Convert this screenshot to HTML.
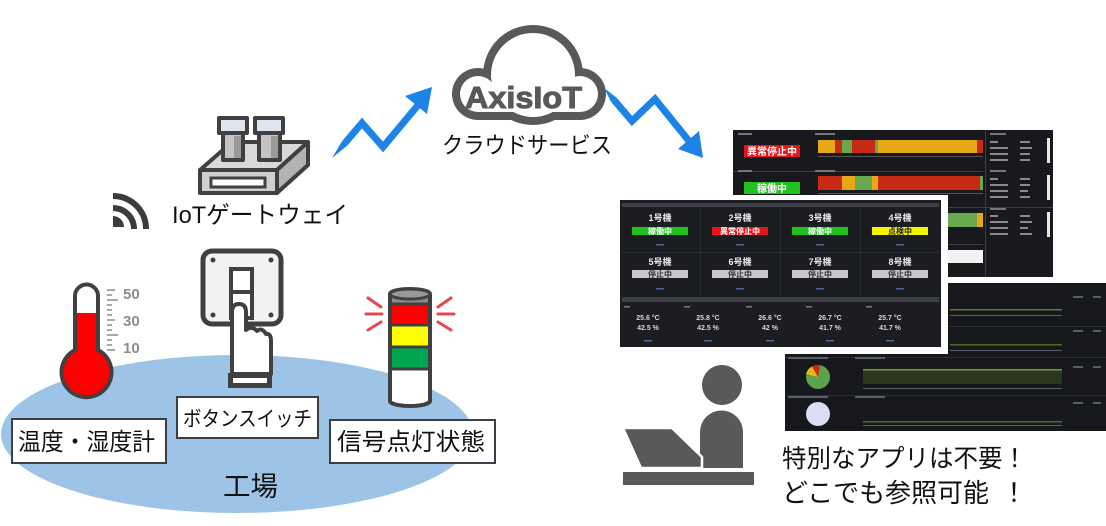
<!DOCTYPE html>
<html><head><meta charset="utf-8"><style>
html,body{margin:0;padding:0;background:#fff;}
svg{display:block;}
text{font-family:"Liberation Sans","Noto Sans CJK JP",sans-serif;}
</style></head><body>
<svg width="1106" height="526" viewBox="0 0 1106 526" xmlns="http://www.w3.org/2000/svg">
<rect width="1106" height="526" fill="#fff"/>

<!-- Factory ellipse -->
<ellipse cx="237" cy="434" rx="236" ry="79" fill="#9dc3e6"/>

<!-- Wifi icon -->
<g fill="none" stroke="#3c3c3c" stroke-width="6">
  <path d="M113 196 A33 33 0 0 1 146 229"/>
  <path d="M113 208 A21 21 0 0 1 134 229"/>
</g>
<path d="M113 216 A11 11 0 0 1 124 227 L113 227 Z" fill="#3c3c3c"/>

<!-- Gateway -->
<g stroke="#404040" stroke-width="4" stroke-linejoin="round">
  <polygon points="200,170 277,170 308,142 232,142" fill="#d9d9d9"/>
  <polygon points="277,170 308,142 308,165 277,193" fill="#b3b3b3"/>
  <rect x="200" y="170" width="77" height="23" fill="#cfcfcf"/>
  <rect x="223" y="130" width="20" height="30" fill="#c4c4c4"/>
  <rect x="259" y="130" width="21" height="30" fill="#c4c4c4"/>
  <rect x="219" y="118" width="28" height="15" fill="#dfe5ee"/>
  <rect x="255" y="118" width="28" height="15" fill="#dfe5ee"/>
</g>
<rect x="234" y="136" width="7" height="22" fill="#9a9a9a"/>
<rect x="271" y="136" width="7" height="22" fill="#9a9a9a"/>
<rect x="211" y="178" width="54" height="9" fill="#fff" stroke="#404040" stroke-width="3"/>
<text x="172" y="223" font-size="24" textLength="176" lengthAdjust="spacingAndGlyphs" fill="#111">IoTゲートウェイ</text>

<!-- Arrow 1 -->
<polygon points="332,158 347.7,145.3 342.3,140.7" fill="#1e83e6"/>
<polyline points="345,143 362,123 383,147 419,104" fill="none" stroke="#1e83e6" stroke-width="7" stroke-linejoin="miter"/>
<polygon points="432,87 427,114 405,96" fill="#1e83e6"/>

<!-- Cloud -->
<g fill="#595959">
  <circle cx="478" cy="94" r="26"/>
  <circle cx="533" cy="75" r="50"/>
  <circle cx="580" cy="94" r="26"/>
  <rect x="478" y="76" width="102" height="44"/>
</g>
<g fill="#fff">
  <circle cx="478" cy="94" r="18"/>
  <circle cx="533" cy="75" r="42"/>
  <circle cx="580" cy="94" r="18"/>
  <rect x="478" y="84" width="102" height="28"/>
</g>
<text x="465" y="108" font-size="31" font-weight="bold" fill="#595959" stroke="#595959" stroke-width="1" textLength="117" lengthAdjust="spacingAndGlyphs">AxisIoT</text>
<text x="442" y="153" font-size="23" textLength="170" lengthAdjust="spacingAndGlyphs" fill="#111">クラウドサービス</text>

<!-- Arrow 2 -->
<polygon points="604,88 616.7,97.7 611.3,102.3" fill="#1e83e6"/>
<polyline points="614,100 632,121 655,99 689,141" fill="none" stroke="#1e83e6" stroke-width="7" stroke-linejoin="miter"/>
<polygon points="703,158 678,149 699,131" fill="#1e83e6"/>

<!-- Back screenshot (top) -->
<rect x="733" y="130" width="320" height="147" fill="#17191d"/>
<g fill="#3a3d44">
  <rect x="733" y="171" width="250" height="1"/>
  <rect x="733" y="207" width="320" height="1"/>
  <rect x="733" y="244" width="250" height="1"/>
  <rect x="985" y="130" width="1" height="147"/>
</g>
<g fill="#777">
  <rect x="738" y="133" width="14" height="2"/>
  <rect x="815" y="133" width="20" height="2"/>
  <rect x="738" y="170" width="14" height="2"/>
  <rect x="815" y="170" width="20" height="2"/>
  <rect x="990" y="133" width="16" height="2"/>
  <rect x="990" y="170" width="16" height="2"/>
  <rect x="990" y="208" width="16" height="2"/>
</g>
<rect x="744" y="145" width="56" height="12" fill="#e8141c"/>
<text x="772" y="155" font-size="10" font-weight="bold" fill="#fff" text-anchor="middle">異常停止中</text>
<rect x="744" y="182" width="56" height="12" fill="#1fc21f"/>
<text x="772" y="192" font-size="10" font-weight="bold" fill="#fff" text-anchor="middle">稼働中</text>
<!-- bar row1 -->
<rect x="818" y="140" width="165" height="13" fill="#e6a817"/>
<rect x="835" y="140" width="7" height="13" fill="#c92a16"/>
<rect x="842" y="140" width="10" height="13" fill="#68a84e"/>
<rect x="852" y="140" width="23" height="13" fill="#c92a16"/>
<rect x="875" y="140" width="3" height="13" fill="#68a84e"/>
<rect x="977" y="140" width="6" height="13" fill="#c92a16"/>
<!-- bar row2 -->
<rect x="818" y="176" width="165" height="14" fill="#c92a16"/>
<rect x="842" y="176" width="13" height="14" fill="#e6a817"/>
<rect x="855" y="176" width="17" height="14" fill="#68a84e"/>
<rect x="872" y="176" width="6" height="14" fill="#e6a817"/>
<rect x="980" y="176" width="3" height="14" fill="#68a84e"/>
<!-- bar row3/4 -->
<rect x="930" y="213" width="47" height="14" fill="#68a84e"/>
<rect x="977" y="213" width="6" height="14" fill="#e6a817"/>
<rect x="930" y="250" width="53" height="13" fill="#f2f2f2"/>
<g fill="#555">
  <rect x="818" y="156" width="165" height="1"/>
  <rect x="818" y="193" width="165" height="1"/>
</g>
<!-- right mini panels -->
<g fill="#8a8a8a">
  <rect x="990" y="141" width="8" height="2"/><rect x="1020" y="141" width="10" height="2"/>
  <rect x="990" y="147" width="18" height="2"/><rect x="1020" y="147" width="12" height="2"/>
  <rect x="990" y="153" width="18" height="2"/><rect x="1020" y="153" width="10" height="2"/>
  <rect x="990" y="159" width="18" height="2"/><rect x="1020" y="159" width="10" height="2"/>
  <rect x="990" y="178" width="8" height="2"/><rect x="1020" y="178" width="10" height="2"/>
  <rect x="990" y="184" width="18" height="2"/><rect x="1020" y="184" width="10" height="2"/>
  <rect x="990" y="190" width="18" height="2"/><rect x="1020" y="190" width="8" height="2"/>
  <rect x="990" y="196" width="18" height="2"/><rect x="1020" y="196" width="10" height="2"/>
  <rect x="990" y="215" width="8" height="2"/><rect x="1020" y="215" width="10" height="2"/>
  <rect x="990" y="221" width="18" height="2"/><rect x="1020" y="221" width="12" height="2"/>
  <rect x="990" y="227" width="18" height="2"/><rect x="1020" y="227" width="8" height="2"/>
  <rect x="990" y="233" width="18" height="2"/><rect x="1020" y="233" width="12" height="2"/>
</g>
<g fill="#e8e8e8">
  <rect x="1047" y="138" width="3" height="25"/>
  <rect x="1047" y="175" width="3" height="25"/>
  <rect x="1047" y="212" width="3" height="25"/>
</g>

<!-- Bottom screenshot -->
<rect x="785" y="283" width="321" height="148" fill="#16181c"/>
<g fill="#2a2e35">
  <rect x="785" y="326" width="321" height="1"/>
  <rect x="785" y="357" width="321" height="1"/>
  <rect x="785" y="395" width="321" height="1"/>
</g>
<rect x="950" y="309" width="112" height="1.5" fill="#5d7a2a"/>
<rect x="950" y="344" width="112" height="1.5" fill="#4f6a24"/>
<rect x="863" y="370" width="199" height="14" fill="#2b3720"/>
<rect x="863" y="369" width="199" height="1.5" fill="#7c9a3c"/>
<rect x="863" y="421" width="199" height="1.5" fill="#4c6a2a"/>
<g fill="#5a5e66">
  <rect x="950" y="315" width="112" height="1"/>
  <rect x="950" y="350" width="112" height="1"/>
  <rect x="863" y="388" width="199" height="1"/>
  <rect x="863" y="425" width="199" height="1"/>
  <rect x="1073" y="296" width="10" height="2"/><rect x="1093" y="296" width="8" height="2"/>
  <rect x="1073" y="330" width="10" height="2"/><rect x="1093" y="330" width="8" height="2"/>
  <rect x="1073" y="366" width="10" height="2"/><rect x="1093" y="366" width="8" height="2"/>
  <rect x="1073" y="402" width="10" height="2"/><rect x="1093" y="402" width="8" height="2"/>
  <rect x="788" y="357" width="40" height="2"/>
  <rect x="855" y="357" width="30" height="2"/>
  <rect x="788" y="396" width="40" height="2"/>
  <rect x="855" y="396" width="30" height="2"/>
</g>
<circle cx="818" cy="377" r="12" fill="#5ba34a"/>
<path d="M818 377 L806 374 A12 12 0 0 1 812 366.5 Z" fill="#e6b917"/>
<path d="M818 377 L812 366.5 A12 12 0 0 1 820 365 Z" fill="#c92a16"/>
<circle cx="818" cy="414" r="12" fill="#dcdcf5"/>

<!-- Front dashboard panel -->
<rect x="615" y="195" width="333" height="159" fill="#fff"/>
<rect x="620" y="200" width="321" height="147" fill="#1b1d21"/>
<rect x="622" y="203" width="317" height="4" fill="#3c3f45"/>
<rect x="622" y="297" width="317" height="5" fill="#3c3f45"/>
<g fill="#2a2d33">
  <rect x="700" y="208" width="1" height="88"/>
  <rect x="780" y="208" width="1" height="88"/>
  <rect x="860" y="208" width="1" height="88"/>
  <rect x="622" y="252" width="317" height="1"/>
</g>
<g font-size="9" font-weight="bold" fill="#e8e8e8" text-anchor="middle">
  <text x="660" y="221">1号機</text>
  <text x="740" y="221">2号機</text>
  <text x="820" y="221">3号機</text>
  <text x="900" y="221">4号機</text>
  <text x="660" y="265">5号機</text>
  <text x="740" y="265">6号機</text>
  <text x="820" y="265">7号機</text>
  <text x="900" y="265">8号機</text>
</g>
<rect x="632" y="227" width="56" height="8" fill="#1fc21f"/>
<rect x="712" y="227" width="56" height="8" fill="#e8141c"/>
<rect x="792" y="227" width="56" height="8" fill="#1fc21f"/>
<rect x="872" y="227" width="56" height="8" fill="#f5f500"/>
<g fill="#c8c8c8">
  <rect x="632" y="270" width="56" height="8"/>
  <rect x="712" y="270" width="56" height="8"/>
  <rect x="792" y="270" width="56" height="8"/>
  <rect x="872" y="270" width="56" height="8"/>
</g>
<g font-size="8" font-weight="bold" text-anchor="middle">
  <text x="660" y="234" fill="#fff">稼働中</text>
  <text x="740" y="234" fill="#fff">異常停止中</text>
  <text x="820" y="234" fill="#fff">稼働中</text>
  <text x="900" y="234" fill="#222">点検中</text>
  <text x="660" y="277" fill="#333">停止中</text>
  <text x="740" y="277" fill="#333">停止中</text>
  <text x="820" y="277" fill="#333">停止中</text>
  <text x="900" y="277" fill="#333">停止中</text>
</g>
<g fill="#4d6a99">
  <rect x="656" y="244" width="8" height="1.5"/><rect x="736" y="244" width="8" height="1.5"/>
  <rect x="816" y="244" width="8" height="1.5"/><rect x="896" y="244" width="8" height="1.5"/>
  <rect x="656" y="288" width="8" height="1.5"/><rect x="736" y="288" width="8" height="1.5"/>
  <rect x="816" y="288" width="8" height="1.5"/><rect x="896" y="288" width="8" height="1.5"/>
  <rect x="644" y="340" width="8" height="1.5"/><rect x="704" y="340" width="8" height="1.5"/>
  <rect x="766" y="340" width="8" height="1.5"/><rect x="826" y="340" width="8" height="1.5"/>
  <rect x="886" y="340" width="8" height="1.5"/>
</g>
<g fill="#777">
  <rect x="624" y="306" width="6" height="1.5"/><rect x="684" y="306" width="6" height="1.5"/>
  <rect x="746" y="306" width="6" height="1.5"/><rect x="806" y="306" width="6" height="1.5"/>
  <rect x="866" y="306" width="6" height="1.5"/>
</g>
<g font-size="7" font-weight="bold" fill="#d8d8d8" text-anchor="middle">
  <text x="648" y="320">25.6 °C</text>
  <text x="708" y="320">25.8 °C</text>
  <text x="770" y="320">26.6 °C</text>
  <text x="830" y="320">26.7 °C</text>
  <text x="890" y="320">25.7 °C</text>
  <text x="648" y="330">42.5 %</text>
  <text x="708" y="330">42.5 %</text>
  <text x="770" y="330">42 %</text>
  <text x="830" y="330">41.7 %</text>
  <text x="890" y="330">41.7 %</text>
</g>

<!-- Thermometer -->
<path d="M75 350 V296 A11.5 11.5 0 0 1 98 296 V350 A25 25 0 1 1 75 350 Z" fill="#fff"/>
<path d="M75 313 H98 V350 A25 25 0 1 1 75 350 Z" fill="#ff0000"/>
<path d="M75 350 V296 A11.5 11.5 0 0 1 98 296 V350 A25 25 0 1 1 75 350 Z" fill="none" stroke="#404040" stroke-width="4"/>
<g stroke="#8c8c8c" stroke-width="1.5">
  <line x1="107" y1="290" x2="115" y2="290"/>
  <line x1="107" y1="295" x2="112" y2="295"/>
  <line x1="107" y1="300" x2="118" y2="300"/>
  <line x1="107" y1="305" x2="112" y2="305"/>
  <line x1="107" y1="310" x2="112" y2="310"/>
  <line x1="107" y1="315" x2="112" y2="315"/>
  <line x1="107" y1="320" x2="115" y2="320"/>
  <line x1="107" y1="325" x2="112" y2="325"/>
  <line x1="107" y1="330" x2="112" y2="330"/>
  <line x1="107" y1="335" x2="118" y2="335"/>
  <line x1="107" y1="340" x2="112" y2="340"/>
  <line x1="107" y1="345" x2="112" y2="345"/>
  <line x1="107" y1="350" x2="115" y2="350"/>
</g>
<g font-size="15" font-weight="bold" fill="#8c8c8c">
  <text x="123" y="299">50</text>
  <text x="123" y="326">30</text>
  <text x="123" y="353">10</text>
</g>
<rect x="12" y="419" width="154" height="44" fill="#fff" stroke="#3a3f48" stroke-width="2"/>
<text x="18" y="450" font-size="24" textLength="137" lengthAdjust="spacingAndGlyphs" fill="#111">温度・湿度計</text>

<!-- Switch -->
<rect x="203" y="251" width="78" height="73" rx="9" fill="#f2f2f2" stroke="#404040" stroke-width="5"/>
<g fill="#404040">
  <circle cx="213" cy="260" r="2.5"/><circle cx="271" cy="260" r="2.5"/>
  <circle cx="213" cy="315" r="2.5"/><circle cx="271" cy="315" r="2.5"/>
</g>
<rect x="231" y="269" width="21" height="49" fill="#fff" stroke="#404040" stroke-width="4"/>
<line x1="231" y1="292" x2="252" y2="292" stroke="#404040" stroke-width="4"/>
<path d="M232 374 V312 Q232 304 239 304 Q246 304 246 312 V330 Q252 325 257 331 Q262 327 266 334 Q271 333 271 341 V374 Z" fill="#fff" stroke="#404040" stroke-width="4" stroke-linejoin="round"/>
<rect x="228" y="373" width="44" height="15" fill="#404040"/>
<rect x="233" y="378" width="34" height="5" fill="#fff"/>
<rect x="177" y="397" width="141" height="41" fill="#fff" stroke="#3a3f48" stroke-width="2"/>
<text x="183" y="426" font-size="21" textLength="129" lengthAdjust="spacingAndGlyphs" fill="#111">ボタンスイッチ</text>

<!-- Signal tower -->
<g stroke="#e4474f" stroke-width="3" stroke-linecap="round">
  <line x1="368" y1="298" x2="381" y2="307"/>
  <line x1="366" y1="314" x2="382" y2="314"/>
  <line x1="368" y1="330" x2="381" y2="322"/>
  <line x1="451" y1="298" x2="438" y2="307"/>
  <line x1="454" y1="314" x2="438" y2="314"/>
  <line x1="451" y1="330" x2="438" y2="322"/>
</g>
<path d="M390 294 A20 5 0 0 1 430 294 V401 A20 5 0 0 1 390 401 Z" fill="#fff"/>
<rect x="390" y="294" width="40" height="10" fill="#8a8a8a"/>
<rect x="390" y="304" width="40" height="21" fill="#ff0000"/>
<rect x="390" y="325" width="40" height="22" fill="#ffff00"/>
<rect x="390" y="347" width="40" height="22" fill="#00a550"/>
<g stroke="#404040" stroke-width="3">
  <line x1="390" y1="304" x2="430" y2="304"/>
  <line x1="390" y1="325" x2="430" y2="325"/>
  <line x1="390" y1="347" x2="430" y2="347"/>
  <line x1="390" y1="369" x2="430" y2="369"/>
</g>
<path d="M390 294 A20 5 0 0 1 430 294 V401 A20 5 0 0 1 390 401 Z" fill="none" stroke="#404040" stroke-width="4"/>
<ellipse cx="410" cy="294" rx="20" ry="5" fill="#9a9a9a" stroke="#404040" stroke-width="3"/>
<rect x="330" y="420" width="165" height="43" fill="#fff" stroke="#3a3f48" stroke-width="2"/>
<text x="337" y="450" font-size="24" textLength="148" lengthAdjust="spacingAndGlyphs" fill="#111">信号点灯状態</text>

<text x="223" y="496" font-size="27" textLength="55" lengthAdjust="spacingAndGlyphs" fill="#111">工場</text>

<!-- Person with laptop -->
<circle cx="722" cy="385" r="20" fill="#595959"/>
<path d="M700 468 V432 A21.5 21.5 0 0 1 743 432 V468 Z" fill="#595959"/>
<polygon points="623,428 672,428 702,457 702,468 641,468" fill="#595959" stroke="#fff" stroke-width="2.5" stroke-linejoin="miter"/>
<rect x="623" y="472" width="131" height="13" fill="#595959"/>

<text x="782" y="467" font-size="25" textLength="245" lengthAdjust="spacingAndGlyphs" fill="#111">特別なアプリは不要！</text>
<text x="782" y="502" font-size="26" textLength="207" lengthAdjust="spacingAndGlyphs" fill="#111">どこでも参照可能</text>
<text x="1001" y="502" font-size="26" fill="#111">！</text>
</svg>
</body></html>
